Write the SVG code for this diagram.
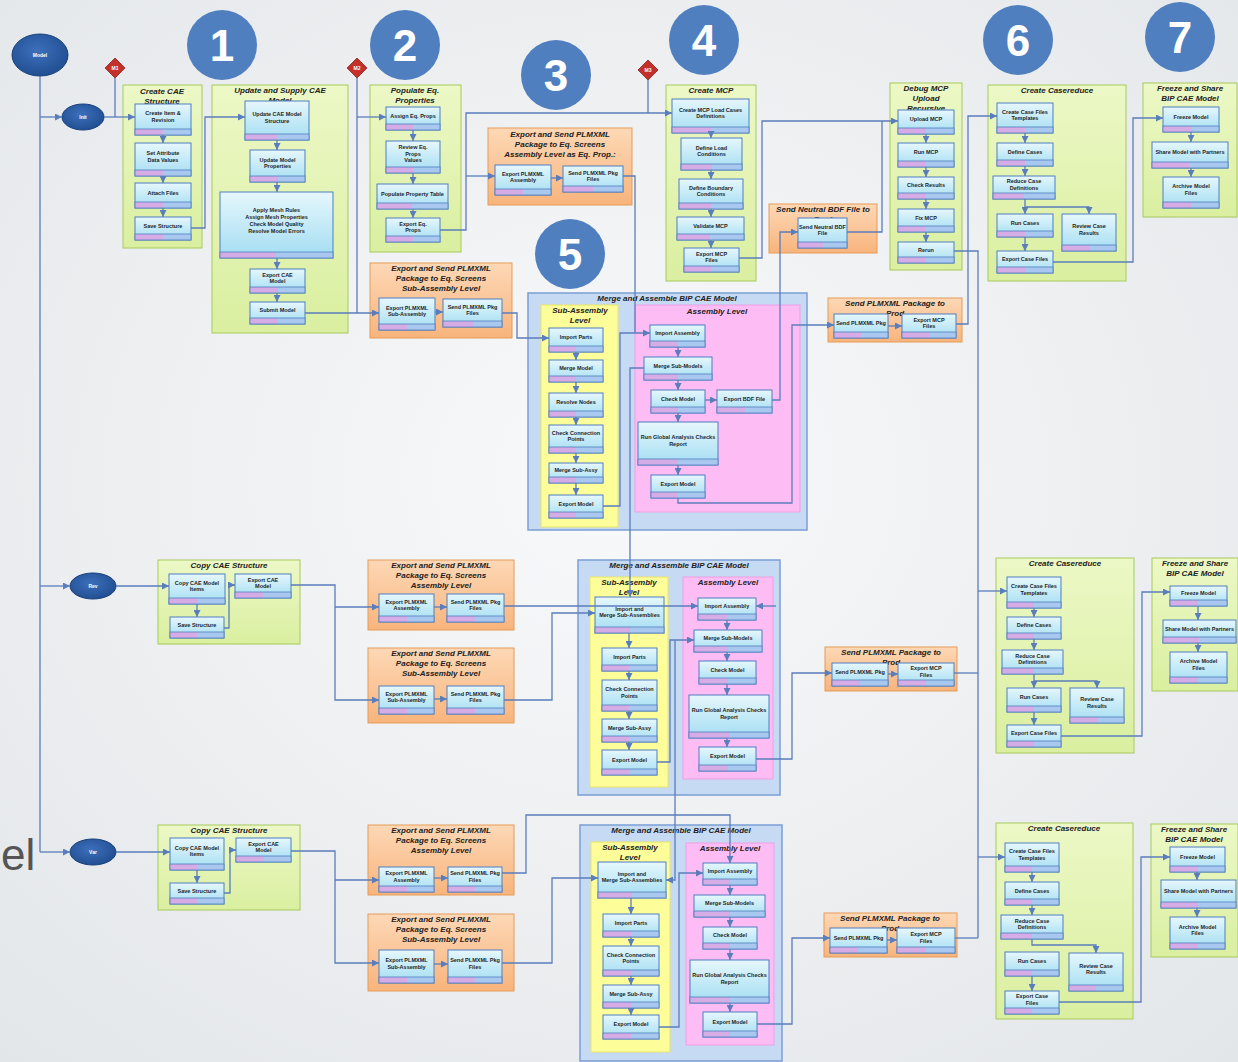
<svg xmlns="http://www.w3.org/2000/svg" width="1238" height="1062" viewBox="0 0 1238 1062">
<defs>
<radialGradient id="bgG" cx="50%" cy="45%" r="75%"><stop offset="0" stop-color="#f8f9fa"/><stop offset="1" stop-color="#e3e6e9"/></radialGradient>
<linearGradient id="gg" x1="0" y1="0" x2="0" y2="1"><stop offset="0" stop-color="#ecf8c6"/><stop offset="1" stop-color="#daefa0"/></linearGradient>
<linearGradient id="og" x1="0" y1="0" x2="0" y2="1"><stop offset="0" stop-color="#fdd8b6"/><stop offset="1" stop-color="#f8b47c"/></linearGradient>
<linearGradient id="bg" x1="0" y1="0" x2="0" y2="1"><stop offset="0" stop-color="#e6f7fc"/><stop offset="1" stop-color="#a3ddf2"/></linearGradient>
<linearGradient id="fg" x1="0" y1="0" x2="1" y2="0"><stop offset="0" stop-color="#d6ace6"/><stop offset="0.5" stop-color="#d6ace6"/><stop offset="0.5" stop-color="#a9c8ef"/><stop offset="1" stop-color="#a9c8ef"/></linearGradient>
<radialGradient id="eg" cx="45%" cy="40%" r="60%"><stop offset="0" stop-color="#3d6fbb"/><stop offset="1" stop-color="#214f92"/></radialGradient>
<marker id="a" viewBox="0 0 8 8" refX="8" refY="4" markerWidth="7" markerHeight="7" markerUnits="userSpaceOnUse" orient="auto"><path d="M0,0 L8,4 L0,8 z" fill="#5a7dbc"/></marker>
<style>
.grn{fill:url(#gg);stroke:#a8c95c;stroke-width:1}
.org{fill:url(#og);stroke:#e59b58;stroke-width:1}
.mrg{fill:#c6daf4;stroke:#7b9ed3;stroke-width:1.5}
.yel{fill:#fdfd9a;stroke:#ece467;stroke-width:1}
.pnk{fill:#fdbdf4;stroke:#ee9fe3;stroke-width:1}
.bx{fill:url(#bg);stroke:#4f7fbf;stroke-width:1}
.ft{fill:url(#fg);stroke:#4f7fbf;stroke-width:0.8}
.t{font-family:"Liberation Sans",Arial,sans-serif;font-size:8px;font-weight:bold;font-style:italic;text-anchor:middle;fill:#222}
.b{font-family:"Liberation Sans",Arial,sans-serif;font-size:5.5px;font-weight:bold;text-anchor:middle;fill:#1e1e1e}
.c{fill:none;stroke:#5a7dbc;stroke-width:1.3;marker-end:url(#a)}
.n{fill:none;stroke:#5a7dbc;stroke-width:1.3}
.num{fill:#4f7fbf}
.nt{font-family:"Liberation Sans",Arial,sans-serif;font-size:44px;font-weight:bold;fill:#fff;text-anchor:middle}
.ev{fill:url(#eg);stroke:#17407a;stroke-width:1}
.et{font-family:"Liberation Sans",Arial,sans-serif;font-size:5px;font-weight:bold;fill:#fff;text-anchor:middle}
.dm{fill:#c3312a;stroke:#8e1f1a;stroke-width:0.8}
</style>
</defs>
<rect width="1238" height="1062" fill="url(#bgG)"/>
<text x="1" y="870" font-family="Liberation Sans, Arial, sans-serif" font-size="44" fill="#555">el</text>

<!-- events and milestones -->
<g id="start"><ellipse class="ev" cx="40" cy="55" rx="28" ry="21"/><text class="et" x="40" y="57">Model</text></g>
<g id="ev-r1"><ellipse class="ev" cx="83" cy="117" rx="21" ry="13"/><text class="et" x="83" y="119">Init</text></g>
<g id="ev-r2"><ellipse class="ev" cx="93" cy="586" rx="23" ry="13"/><text class="et" x="93" y="588">Rev</text></g>
<g id="ev-r3"><ellipse class="ev" cx="93" cy="852" rx="23" ry="13"/><text class="et" x="93" y="854">Var</text></g>
<g id="ms1"><polygon class="dm" points="115,58 125,68 115,78 105,68"/><text class="et" x="115" y="70">M1</text></g>
<g id="ms2"><polygon class="dm" points="357,58 367,68 357,78 347,68"/><text class="et" x="357" y="70">M2</text></g>
<g id="ms3"><polygon class="dm" points="648,60 658,70 648,80 638,70"/><text class="et" x="648" y="72">M3</text></g>

<!-- number markers -->
<g id="num1"><circle class="num" cx="222" cy="45" r="35"/><text class="nt" x="222" y="61">1</text></g>
<g id="num2"><circle class="num" cx="405" cy="45" r="35"/><text class="nt" x="405" y="61">2</text></g>
<g id="num3"><circle class="num" cx="556" cy="75" r="35"/><text class="nt" x="556" y="91">3</text></g>
<g id="num4"><circle class="num" cx="704" cy="40" r="35"/><text class="nt" x="704" y="56">4</text></g>
<g id="num5"><circle class="num" cx="570" cy="254" r="35"/><text class="nt" x="570" y="270">5</text></g>
<g id="num6"><circle class="num" cx="1018" cy="40" r="35"/><text class="nt" x="1018" y="56">6</text></g>
<g id="num7"><circle class="num" cx="1180" cy="37" r="35"/><text class="nt" x="1180" y="53">7</text></g>

<!-- ROW 1 -->
<g id="r1-create-cae">
<rect class="grn" x="123" y="85" width="79" height="163"/>
<text class="t" x="162" y="94">Create CAE</text><text class="t" x="162" y="104">Structure</text>
<rect class="bx" x="135" y="104" width="56" height="31"/><rect class="ft" x="135" y="129" width="56" height="6"/><text class="b" x="163" y="115">Create Item &amp;</text><text class="b" x="163" y="121.5">Revision</text>
<rect class="bx" x="135" y="143" width="56" height="33"/><rect class="ft" x="135" y="170" width="56" height="6"/><text class="b" x="163" y="155">Set Attribute</text><text class="b" x="163" y="161.5">Data Values</text>
<rect class="bx" x="135" y="183" width="56" height="25"/><rect class="ft" x="135" y="202" width="56" height="6"/><text class="b" x="163" y="194.5">Attach Files</text>
<rect class="bx" x="135" y="217" width="56" height="23"/><rect class="ft" x="135" y="234" width="56" height="6"/><text class="b" x="163" y="227.5">Save Structure</text>
</g>
<g id="r1-update-cae">
<rect class="grn" x="212" y="85" width="136" height="248"/>
<text class="t" x="280" y="93">Update and Supply CAE</text><text class="t" x="280" y="103">Model</text>
<rect class="bx" x="245" y="101" width="64" height="39"/><rect class="ft" x="245" y="134" width="64" height="6"/><text class="b" x="277" y="116">Update CAE Model</text><text class="b" x="277" y="122.5">Structure</text>
<rect class="bx" x="250" y="150" width="55" height="32"/><rect class="ft" x="250" y="176" width="55" height="6"/><text class="b" x="277.5" y="161.5">Update Model</text><text class="b" x="277.5" y="168">Properties</text>
<rect class="bx" x="220" y="192" width="113" height="66"/><rect class="ft" x="220" y="252" width="113" height="6"/><text class="b" x="276.5" y="212">Apply Mesh Rules</text><text class="b" x="276.5" y="219">Assign Mesh Properties</text><text class="b" x="276.5" y="226">Check Model Quality</text><text class="b" x="276.5" y="233">Resolve Model Errors</text>
<rect class="bx" x="250" y="269" width="55" height="24"/><rect class="ft" x="250" y="287" width="55" height="6"/><text class="b" x="277.5" y="276.5">Export CAE</text><text class="b" x="277.5" y="283">Model</text>
<rect class="bx" x="250" y="302" width="55" height="22"/><rect class="ft" x="250" y="318" width="55" height="6"/><text class="b" x="277.5" y="312">Submit Model</text>
</g>
<g id="r1-populate">
<rect class="grn" x="370" y="85" width="91" height="167"/>
<text class="t" x="415" y="93">Populate Eq.</text><text class="t" x="415" y="103">Properties</text>
<rect class="bx" x="386" y="107" width="54" height="23"/><rect class="ft" x="386" y="124" width="54" height="6"/><text class="b" x="413" y="117.5">Assign Eq. Props</text>
<rect class="bx" x="386" y="141" width="54" height="32"/><rect class="ft" x="386" y="167" width="54" height="6"/><text class="b" x="413" y="149">Review Eq.</text><text class="b" x="413" y="155.5">Props</text><text class="b" x="413" y="162">Values</text>
<rect class="bx" x="377" y="184" width="71" height="25"/><rect class="ft" x="377" y="203" width="71" height="6"/><text class="b" x="412.5" y="195.5">Populate Property Table</text>
<rect class="bx" x="386" y="218" width="54" height="24"/><rect class="ft" x="386" y="236" width="54" height="6"/><text class="b" x="413" y="225.5">Export Eq.</text><text class="b" x="413" y="232">Props</text>
</g>
<g id="r1-export-asm">
<rect class="org" x="488" y="128" width="144" height="77"/>
<text class="t" x="560" y="137">Export and Send PLMXML</text><text class="t" x="560" y="147">Package to Eq. Screens</text><text class="t" x="560" y="157">Assembly Level as Eq. Prop.:</text>
<rect class="bx" x="495" y="165" width="56" height="30"/><rect class="ft" x="495" y="189" width="56" height="6"/><text class="b" x="523" y="175.5">Export PLMXML</text><text class="b" x="523" y="182">Assembly</text>
<rect class="bx" x="563" y="166" width="60" height="26"/><rect class="ft" x="563" y="186" width="60" height="6"/><text class="b" x="593" y="174.5">Send PLMXML Pkg</text><text class="b" x="593" y="181">Files</text>
</g>
<g id="r1-export-sub">
<rect class="org" x="370" y="263" width="142" height="75"/>
<text class="t" x="441" y="271">Export and Send PLMXML</text><text class="t" x="441" y="281">Package to Eq. Screens</text><text class="t" x="441" y="291">Sub-Assembly Level</text>
<rect class="bx" x="379" y="298" width="56" height="32"/><rect class="ft" x="379" y="324" width="56" height="6"/><text class="b" x="407" y="309.5">Export PLMXML</text><text class="b" x="407" y="316">Sub-Assembly</text>
<rect class="bx" x="443" y="299" width="59" height="28"/><rect class="ft" x="443" y="321" width="59" height="6"/><text class="b" x="472.5" y="308.5">Send PLMXML Pkg</text><text class="b" x="472.5" y="315">Files</text>
</g>
<g id="r1-merge">
<rect class="mrg" x="528" y="293" width="279" height="237"/>
<text class="t" x="667" y="301">Merge and Assemble BIP CAE Model</text>
<rect class="yel" x="541" y="305" width="77" height="222"/>
<text class="t" x="580" y="313">Sub-Assembly</text><text class="t" x="580" y="323">Level</text>
<rect class="bx" x="549" y="328" width="54" height="24"/><rect class="ft" x="549" y="346" width="54" height="6"/><text class="b" x="576" y="339">Import Parts</text>
<rect class="bx" x="549" y="360" width="54" height="22"/><rect class="ft" x="549" y="376" width="54" height="6"/><text class="b" x="576" y="370">Merge Model</text>
<rect class="bx" x="549" y="393" width="54" height="24"/><rect class="ft" x="549" y="411" width="54" height="6"/><text class="b" x="576" y="404">Resolve Nodes</text>
<rect class="bx" x="549" y="425" width="54" height="28"/><rect class="ft" x="549" y="447" width="54" height="6"/><text class="b" x="576" y="434.5">Check Connection</text><text class="b" x="576" y="441">Points</text>
<rect class="bx" x="549" y="463" width="54" height="20"/><rect class="ft" x="549" y="477" width="54" height="6"/><text class="b" x="576" y="472">Merge Sub-Assy</text>
<rect class="bx" x="549" y="495" width="54" height="23"/><rect class="ft" x="549" y="512" width="54" height="6"/><text class="b" x="576" y="505.5">Export Model</text>
<rect class="pnk" x="635" y="305" width="165" height="207"/>
<text class="t" x="717" y="314">Assembly Level</text>
<rect class="bx" x="650" y="325" width="55" height="22"/><rect class="ft" x="650" y="341" width="55" height="6"/><text class="b" x="677.5" y="335">Import Assembly</text>
<rect class="bx" x="644" y="357" width="68" height="23"/><rect class="ft" x="644" y="374" width="68" height="6"/><text class="b" x="678" y="367.5">Merge Sub-Models</text>
<rect class="bx" x="651" y="390" width="54" height="23"/><rect class="ft" x="651" y="407" width="54" height="6"/><text class="b" x="678" y="400.5">Check Model</text>
<rect class="bx" x="717" y="390" width="55" height="23"/><rect class="ft" x="717" y="407" width="55" height="6"/><text class="b" x="744.5" y="400.5">Export BDF File</text>
<rect class="bx" x="638" y="422" width="80" height="43"/><rect class="ft" x="638" y="459" width="80" height="6"/><text class="b" x="678" y="439">Run Global Analysis Checks</text><text class="b" x="678" y="445.5">Report</text>
<rect class="bx" x="651" y="475" width="54" height="23"/><rect class="ft" x="651" y="492" width="54" height="6"/><text class="b" x="678" y="485.5">Export Model</text>
</g>
<g id="r1-send-bdf">
<rect class="org" x="769" y="204" width="108" height="49"/>
<text class="t" x="823" y="212">Send Neutral BDF File to</text><text class="t" x="823" y="222">Prod</text>
<rect class="bx" x="798" y="218" width="49" height="30"/><rect class="ft" x="798" y="242" width="49" height="6"/><text class="b" x="822.5" y="228.5">Send Neutral BDF</text><text class="b" x="822.5" y="235">File</text>
</g>
<g id="r1-create-mcp">
<rect class="grn" x="666" y="85" width="90" height="196"/>
<text class="t" x="711" y="93">Create MCP</text>
<rect class="bx" x="672" y="99" width="77" height="34"/><rect class="ft" x="672" y="127" width="77" height="6"/><text class="b" x="710.5" y="111.5">Create MCP Load Cases</text><text class="b" x="710.5" y="118">Definitions</text>
<rect class="bx" x="681" y="138" width="61" height="32"/><rect class="ft" x="681" y="164" width="61" height="6"/><text class="b" x="711.5" y="149.5">Define Load</text><text class="b" x="711.5" y="156">Conditions</text>
<rect class="bx" x="679" y="179" width="64" height="30"/><rect class="ft" x="679" y="203" width="64" height="6"/><text class="b" x="711" y="189.5">Define Boundary</text><text class="b" x="711" y="196">Conditions</text>
<rect class="bx" x="677" y="217" width="67" height="23"/><rect class="ft" x="677" y="234" width="67" height="6"/><text class="b" x="710.5" y="227.5">Validate MCP</text>
<rect class="bx" x="684" y="248" width="55" height="24"/><rect class="ft" x="684" y="266" width="55" height="6"/><text class="b" x="711.5" y="255.5">Export MCP</text><text class="b" x="711.5" y="262">Files</text>
</g>
<g id="r1-debug-mcp">
<rect class="grn" x="890" y="83" width="72" height="187"/>
<text class="t" x="926" y="91">Debug MCP</text><text class="t" x="926" y="101">Upload</text><text class="t" x="926" y="111">Recursive</text>
<rect class="bx" x="898" y="110" width="56" height="24"/><rect class="ft" x="898" y="128" width="56" height="6"/><text class="b" x="926" y="121">Upload MCP</text>
<rect class="bx" x="898" y="143" width="56" height="24"/><rect class="ft" x="898" y="161" width="56" height="6"/><text class="b" x="926" y="154">Run MCP</text>
<rect class="bx" x="898" y="177" width="56" height="22"/><rect class="ft" x="898" y="193" width="56" height="6"/><text class="b" x="926" y="187">Check Results</text>
<rect class="bx" x="898" y="209" width="56" height="23"/><rect class="ft" x="898" y="226" width="56" height="6"/><text class="b" x="926" y="219.5">Fix MCP</text>
<rect class="bx" x="898" y="242" width="56" height="21"/><rect class="ft" x="898" y="257" width="56" height="6"/><text class="b" x="926" y="251.5">Rerun</text>
</g>
<g id="r1-send-plmxml">
<rect class="org" x="828" y="298" width="134" height="44"/>
<text class="t" x="895" y="306">Send PLMXML Package to</text><text class="t" x="895" y="316">Prod</text>
<rect class="bx" x="834" y="314" width="54" height="24"/><rect class="ft" x="834" y="332" width="54" height="6"/><text class="b" x="861" y="325">Send PLMXML Pkg</text>
<rect class="bx" x="902" y="314" width="54" height="24"/><rect class="ft" x="902" y="332" width="54" height="6"/><text class="b" x="929" y="321.5">Export MCP</text><text class="b" x="929" y="328">Files</text>
</g>
<g id="r1-casereduce">
<rect class="grn" x="988" y="85" width="138" height="196"/>
<text class="t" x="1057" y="93">Create Casereduce</text>
<rect class="bx" x="997" y="103" width="56" height="30"/><rect class="ft" x="997" y="127" width="56" height="6"/><text class="b" x="1025" y="113.5">Create Case Files</text><text class="b" x="1025" y="120">Templates</text>
<rect class="bx" x="997" y="143" width="56" height="23"/><rect class="ft" x="997" y="160" width="56" height="6"/><text class="b" x="1025" y="153.5">Define Cases</text>
<rect class="bx" x="993" y="176" width="62" height="23"/><rect class="ft" x="993" y="193" width="62" height="6"/><text class="b" x="1024" y="183">Reduce Case</text><text class="b" x="1024" y="189.5">Definitions</text>
<rect class="bx" x="997" y="214" width="56" height="23"/><rect class="ft" x="997" y="231" width="56" height="6"/><text class="b" x="1025" y="224.5">Run Cases</text>
<rect class="bx" x="1062" y="214" width="54" height="37"/><rect class="ft" x="1062" y="245" width="54" height="6"/><text class="b" x="1089" y="228">Review Case</text><text class="b" x="1089" y="234.5">Results</text>
<rect class="bx" x="997" y="251" width="56" height="22"/><rect class="ft" x="997" y="267" width="56" height="6"/><text class="b" x="1025" y="261">Export Case Files</text>
</g>
<g id="r1-freeze">
<rect class="grn" x="1143" y="83" width="94" height="134"/>
<text class="t" x="1190" y="91">Freeze and Share</text><text class="t" x="1190" y="101">BIP CAE Model</text>
<rect class="bx" x="1163" y="107" width="56" height="25"/><rect class="ft" x="1163" y="126" width="56" height="6"/><text class="b" x="1191" y="118.5">Freeze Model</text>
<rect class="bx" x="1152" y="142" width="76" height="26"/><rect class="ft" x="1152" y="162" width="76" height="6"/><text class="b" x="1190" y="154">Share Model with Partners</text>
<rect class="bx" x="1163" y="177" width="56" height="31"/><rect class="ft" x="1163" y="202" width="56" height="6"/><text class="b" x="1191" y="188">Archive Model</text><text class="b" x="1191" y="194.5">Files</text>
</g>

<!-- ROW 2 -->
<g id="r2-copy-cae">
<rect class="grn" x="158" y="560" width="142" height="84"/>
<text class="t" x="229" y="568">Copy CAE Structure</text>
<rect class="bx" x="169" y="574" width="56" height="30"/><rect class="ft" x="169" y="598" width="56" height="6"/><text class="b" x="197" y="584.5">Copy CAE Model</text><text class="b" x="197" y="591">Items</text>
<rect class="bx" x="170" y="617" width="54" height="21"/><rect class="ft" x="170" y="632" width="54" height="6"/><text class="b" x="197" y="626.5">Save Structure</text>
<rect class="bx" x="235" y="574" width="56" height="24"/><rect class="ft" x="235" y="592" width="56" height="6"/><text class="b" x="263" y="581.5">Export CAE</text><text class="b" x="263" y="588">Model</text>
</g>
<g id="r2-export-asm">
<rect class="org" x="368" y="560" width="146" height="70"/>
<text class="t" x="441" y="568">Export and Send PLMXML</text><text class="t" x="441" y="578">Package to Eq. Screens</text><text class="t" x="441" y="588">Assembly Level</text>
<rect class="bx" x="379" y="594" width="55" height="28"/><rect class="ft" x="379" y="616" width="55" height="6"/><text class="b" x="406.5" y="603.5">Export PLMXML</text><text class="b" x="406.5" y="610">Assembly</text>
<rect class="bx" x="447" y="594" width="57" height="28"/><rect class="ft" x="447" y="616" width="57" height="6"/><text class="b" x="475.5" y="603.5">Send PLMXML Pkg</text><text class="b" x="475.5" y="610">Files</text>
</g>
<g id="r2-export-sub">
<rect class="org" x="368" y="648" width="146" height="75"/>
<text class="t" x="441" y="656">Export and Send PLMXML</text><text class="t" x="441" y="666">Package to Eq. Screens</text><text class="t" x="441" y="676">Sub-Assembly Level</text>
<rect class="bx" x="379" y="686" width="55" height="28"/><rect class="ft" x="379" y="708" width="55" height="6"/><text class="b" x="406.5" y="695.5">Export PLMXML</text><text class="b" x="406.5" y="702">Sub-Assembly</text>
<rect class="bx" x="447" y="686" width="57" height="28"/><rect class="ft" x="447" y="708" width="57" height="6"/><text class="b" x="475.5" y="695.5">Send PLMXML Pkg</text><text class="b" x="475.5" y="702">Files</text>
</g>
<g id="r2-merge">
<rect class="mrg" x="578" y="560" width="202" height="235"/>
<text class="t" x="679" y="568">Merge and Assemble BIP CAE Model</text>
<rect class="yel" x="590" y="577" width="78" height="210"/>
<text class="t" x="629" y="585">Sub-Assembly</text><text class="t" x="629" y="595">Level</text>
<rect class="bx" x="595" y="597" width="69" height="36"/><rect class="ft" x="595" y="627" width="69" height="6"/><text class="b" x="629.5" y="610.5">Import and</text><text class="b" x="629.5" y="617">Merge Sub-Assemblies</text>
<rect class="bx" x="602" y="648" width="55" height="23"/><rect class="ft" x="602" y="665" width="55" height="6"/><text class="b" x="629.5" y="658.5">Import Parts</text>
<rect class="bx" x="602" y="680" width="55" height="31"/><rect class="ft" x="602" y="705" width="55" height="6"/><text class="b" x="629.5" y="691">Check Connection</text><text class="b" x="629.5" y="697.5">Points</text>
<rect class="bx" x="602" y="719" width="55" height="23"/><rect class="ft" x="602" y="736" width="55" height="6"/><text class="b" x="629.5" y="729.5">Merge Sub-Assy</text>
<rect class="bx" x="602" y="750" width="55" height="25"/><rect class="ft" x="602" y="769" width="55" height="6"/><text class="b" x="629.5" y="761.5">Export Model</text>
<rect class="pnk" x="683" y="577" width="90" height="202"/>
<text class="t" x="728" y="585">Assembly Level</text>
<rect class="bx" x="698" y="598" width="58" height="22"/><rect class="ft" x="698" y="614" width="58" height="6"/><text class="b" x="727" y="608">Import Assembly</text>
<rect class="bx" x="694" y="630" width="68" height="22"/><rect class="ft" x="694" y="646" width="68" height="6"/><text class="b" x="728" y="640">Merge Sub-Models</text>
<rect class="bx" x="699" y="661" width="57" height="23"/><rect class="ft" x="699" y="678" width="57" height="6"/><text class="b" x="727.5" y="671.5">Check Model</text>
<rect class="bx" x="689" y="695" width="80" height="43"/><rect class="ft" x="689" y="732" width="80" height="6"/><text class="b" x="729" y="712">Run Global Analysis Checks</text><text class="b" x="729" y="718.5">Report</text>
<rect class="bx" x="699" y="747" width="57" height="24"/><rect class="ft" x="699" y="765" width="57" height="6"/><text class="b" x="727.5" y="758">Export Model</text>
</g>
<g id="r2-send-plmxml">
<rect class="org" x="825" y="647" width="132" height="44"/>
<text class="t" x="891" y="655">Send PLMXML Package to</text><text class="t" x="891" y="665">Prod</text>
<rect class="bx" x="832" y="663" width="56" height="23"/><rect class="ft" x="832" y="680" width="56" height="6"/><text class="b" x="860" y="673.5">Send PLMXML Pkg</text>
<rect class="bx" x="898" y="663" width="56" height="23"/><rect class="ft" x="898" y="680" width="56" height="6"/><text class="b" x="926" y="670">Export MCP</text><text class="b" x="926" y="676.5">Files</text>
</g>
<g id="r2-casereduce">
<rect class="grn" x="996" y="558" width="138" height="195"/>
<text class="t" x="1065" y="566">Create Casereduce</text>
<rect class="bx" x="1007" y="577" width="54" height="31"/><rect class="ft" x="1007" y="602" width="54" height="6"/><text class="b" x="1034" y="588">Create Case Files</text><text class="b" x="1034" y="594.5">Templates</text>
<rect class="bx" x="1007" y="617" width="54" height="22"/><rect class="ft" x="1007" y="633" width="54" height="6"/><text class="b" x="1034" y="627">Define Cases</text>
<rect class="bx" x="1002" y="650" width="61" height="24"/><rect class="ft" x="1002" y="668" width="61" height="6"/><text class="b" x="1032.5" y="657.5">Reduce Case</text><text class="b" x="1032.5" y="664">Definitions</text>
<rect class="bx" x="1007" y="688" width="54" height="24"/><rect class="ft" x="1007" y="706" width="54" height="6"/><text class="b" x="1034" y="699">Run Cases</text>
<rect class="bx" x="1070" y="688" width="54" height="35"/><rect class="ft" x="1070" y="717" width="54" height="6"/><text class="b" x="1097" y="701">Review Case</text><text class="b" x="1097" y="707.5">Results</text>
<rect class="bx" x="1007" y="725" width="54" height="22"/><rect class="ft" x="1007" y="741" width="54" height="6"/><text class="b" x="1034" y="735">Export Case Files</text>
</g>
<g id="r2-freeze">
<rect class="grn" x="1152" y="558" width="86" height="133"/>
<text class="t" x="1195" y="566">Freeze and Share</text><text class="t" x="1195" y="576">BIP CAE Model</text>
<rect class="bx" x="1170" y="586" width="57" height="20"/><rect class="ft" x="1170" y="600" width="57" height="6"/><text class="b" x="1198.5" y="595">Freeze Model</text>
<rect class="bx" x="1163" y="620" width="73" height="23"/><rect class="ft" x="1163" y="637" width="73" height="6"/><text class="b" x="1199.5" y="630.5">Share Model with Partners</text>
<rect class="bx" x="1170" y="652" width="57" height="31"/><rect class="ft" x="1170" y="677" width="57" height="6"/><text class="b" x="1198.5" y="663">Archive Model</text><text class="b" x="1198.5" y="669.5">Files</text>
</g>

<!-- ROW 3 -->
<g id="r3-copy-cae">
<rect class="grn" x="158" y="825" width="142" height="85"/>
<text class="t" x="229" y="833">Copy CAE Structure</text>
<rect class="bx" x="170" y="838" width="54" height="32"/><rect class="ft" x="170" y="864" width="54" height="6"/><text class="b" x="197" y="849.5">Copy CAE Model</text><text class="b" x="197" y="856">Items</text>
<rect class="bx" x="170" y="883" width="54" height="21"/><rect class="ft" x="170" y="898" width="54" height="6"/><text class="b" x="197" y="892.5">Save Structure</text>
<rect class="bx" x="236" y="838" width="55" height="24"/><rect class="ft" x="236" y="856" width="55" height="6"/><text class="b" x="263.5" y="845.5">Export CAE</text><text class="b" x="263.5" y="852">Model</text>
</g>
<g id="r3-export-asm">
<rect class="org" x="368" y="825" width="146" height="70"/>
<text class="t" x="441" y="833">Export and Send PLMXML</text><text class="t" x="441" y="843">Package to Eq. Screens</text><text class="t" x="441" y="853">Assembly Level</text>
<rect class="bx" x="379" y="867" width="55" height="25"/><rect class="ft" x="379" y="886" width="55" height="6"/><text class="b" x="406.5" y="875">Export PLMXML</text><text class="b" x="406.5" y="881.5">Assembly</text>
<rect class="bx" x="448" y="867" width="54" height="25"/><rect class="ft" x="448" y="886" width="54" height="6"/><text class="b" x="475" y="875">Send PLMXML Pkg</text><text class="b" x="475" y="881.5">Files</text>
</g>
<g id="r3-export-sub">
<rect class="org" x="368" y="914" width="146" height="77"/>
<text class="t" x="441" y="922">Export and Send PLMXML</text><text class="t" x="441" y="932">Package to Eq. Screens</text><text class="t" x="441" y="942">Sub-Assembly Level</text>
<rect class="bx" x="379" y="950" width="55" height="33"/><rect class="ft" x="379" y="977" width="55" height="6"/><text class="b" x="406.5" y="962">Export PLMXML</text><text class="b" x="406.5" y="968.5">Sub-Assembly</text>
<rect class="bx" x="448" y="950" width="54" height="33"/><rect class="ft" x="448" y="977" width="54" height="6"/><text class="b" x="475" y="962">Send PLMXML Pkg</text><text class="b" x="475" y="968.5">Files</text>
</g>
<g id="r3-merge">
<rect class="mrg" x="580" y="825" width="202" height="236"/>
<text class="t" x="681" y="833">Merge and Assemble BIP CAE Model</text>
<rect class="yel" x="591" y="842" width="79" height="210"/>
<text class="t" x="630" y="850">Sub-Assembly</text><text class="t" x="630" y="860">Level</text>
<rect class="bx" x="598" y="862" width="68" height="36"/><rect class="ft" x="598" y="892" width="68" height="6"/><text class="b" x="632" y="875.5">Import and</text><text class="b" x="632" y="882">Merge Sub-Assemblies</text>
<rect class="bx" x="603" y="914" width="56" height="23"/><rect class="ft" x="603" y="931" width="56" height="6"/><text class="b" x="631" y="924.5">Import Parts</text>
<rect class="bx" x="603" y="946" width="56" height="30"/><rect class="ft" x="603" y="970" width="56" height="6"/><text class="b" x="631" y="956.5">Check Connection</text><text class="b" x="631" y="963">Points</text>
<rect class="bx" x="603" y="985" width="56" height="23"/><rect class="ft" x="603" y="1002" width="56" height="6"/><text class="b" x="631" y="995.5">Merge Sub-Assy</text>
<rect class="bx" x="603" y="1015" width="56" height="24"/><rect class="ft" x="603" y="1033" width="56" height="6"/><text class="b" x="631" y="1026">Export Model</text>
<rect class="pnk" x="686" y="843" width="88" height="202"/>
<text class="t" x="730" y="851">Assembly Level</text>
<rect class="bx" x="703" y="863" width="54" height="22"/><rect class="ft" x="703" y="879" width="54" height="6"/><text class="b" x="730" y="873">Import Assembly</text>
<rect class="bx" x="694" y="895" width="71" height="22"/><rect class="ft" x="694" y="911" width="71" height="6"/><text class="b" x="729.5" y="905">Merge Sub-Models</text>
<rect class="bx" x="703" y="927" width="54" height="22"/><rect class="ft" x="703" y="943" width="54" height="6"/><text class="b" x="730" y="937">Check Model</text>
<rect class="bx" x="690" y="960" width="79" height="43"/><rect class="ft" x="690" y="997" width="79" height="6"/><text class="b" x="729.5" y="977">Run Global Analysis Checks</text><text class="b" x="729.5" y="983.5">Report</text>
<rect class="bx" x="703" y="1012" width="54" height="25"/><rect class="ft" x="703" y="1031" width="54" height="6"/><text class="b" x="730" y="1023.5">Export Model</text>
</g>
<g id="r3-send-plmxml">
<rect class="org" x="824" y="913" width="133" height="44"/>
<text class="t" x="890" y="921">Send PLMXML Package to</text><text class="t" x="890" y="931">Prod</text>
<rect class="bx" x="830" y="928" width="57" height="25"/><rect class="ft" x="830" y="947" width="57" height="6"/><text class="b" x="858.5" y="939.5">Send PLMXML Pkg</text>
<rect class="bx" x="897" y="928" width="58" height="25"/><rect class="ft" x="897" y="947" width="58" height="6"/><text class="b" x="926" y="936">Export MCP</text><text class="b" x="926" y="942.5">Files</text>
</g>
<g id="r3-casereduce">
<rect class="grn" x="996" y="823" width="137" height="196"/>
<text class="t" x="1064" y="831">Create Casereduce</text>
<rect class="bx" x="1005" y="843" width="54" height="29"/><rect class="ft" x="1005" y="866" width="54" height="6"/><text class="b" x="1032" y="853">Create Case Files</text><text class="b" x="1032" y="859.5">Templates</text>
<rect class="bx" x="1005" y="882" width="54" height="23"/><rect class="ft" x="1005" y="899" width="54" height="6"/><text class="b" x="1032" y="892.5">Define Cases</text>
<rect class="bx" x="1001" y="915" width="62" height="24"/><rect class="ft" x="1001" y="933" width="62" height="6"/><text class="b" x="1032" y="922.5">Reduce Case</text><text class="b" x="1032" y="929">Definitions</text>
<rect class="bx" x="1005" y="952" width="54" height="24"/><rect class="ft" x="1005" y="970" width="54" height="6"/><text class="b" x="1032" y="963">Run Cases</text>
<rect class="bx" x="1069" y="953" width="54" height="38"/><rect class="ft" x="1069" y="985" width="54" height="6"/><text class="b" x="1096" y="967.5">Review Case</text><text class="b" x="1096" y="974">Results</text>
<rect class="bx" x="1005" y="991" width="54" height="23"/><rect class="ft" x="1005" y="1008" width="54" height="6"/><text class="b" x="1032" y="998">Export Case</text><text class="b" x="1032" y="1004.5">Files</text>
</g>
<g id="r3-freeze">
<rect class="grn" x="1151" y="824" width="87" height="133"/>
<text class="t" x="1194" y="832">Freeze and Share</text><text class="t" x="1194" y="842">BIP CAE Model</text>
<rect class="bx" x="1170" y="847" width="55" height="25"/><rect class="ft" x="1170" y="866" width="55" height="6"/><text class="b" x="1197.5" y="858.5">Freeze Model</text>
<rect class="bx" x="1161" y="880" width="75" height="28"/><rect class="ft" x="1161" y="902" width="75" height="6"/><text class="b" x="1198.5" y="893">Share Model with Partners</text>
<rect class="bx" x="1170" y="917" width="55" height="32"/><rect class="ft" x="1170" y="943" width="55" height="6"/><text class="b" x="1197.5" y="928.5">Archive Model</text><text class="b" x="1197.5" y="935">Files</text>
</g>

<!-- CONNECTORS -->
<g id="connectors">
<path class="n" d="M40,76 V852"/>
<path class="c" d="M40,117 H62"/>
<path class="c" d="M40,586 H70"/>
<path class="c" d="M40,852 H70"/>
<path class="c" d="M104,117 H135"/>
<path class="n" d="M115,78 V117"/>
<path class="c" d="M163,135 V143"/><path class="c" d="M163,176 V183"/><path class="c" d="M163,208 V217"/>
<path class="c" d="M191,228 H205 V117 H245"/>
<path class="c" d="M277,140 V150"/><path class="c" d="M277,182 V192"/><path class="c" d="M277,258 V269"/><path class="c" d="M277,293 V302"/>
<path class="c" d="M305,313 H379"/>
<path class="n" d="M357,78 V313"/>
<path class="c" d="M357,117 H386"/>
<path class="c" d="M413,130 V141"/><path class="c" d="M413,173 V184"/><path class="c" d="M413,209 V218"/>
<path class="c" d="M440,230 H466 V113 H672"/>
<path class="c" d="M466,176 H495"/>
<path class="n" d="M648,80 V113"/>
<path class="c" d="M551,178 H563"/>
<path class="n" d="M623,176 H635 V333"/>
<path class="c" d="M435,312 H443"/>
<path class="c" d="M502,313 H517 V338 H549"/>
<path class="c" d="M576,352 V360"/><path class="c" d="M576,382 V393"/><path class="c" d="M576,417 V425"/><path class="c" d="M576,453 V463"/><path class="c" d="M576,483 V495"/>
<path class="c" d="M603,506 H620 V333 H650"/>
<path class="c" d="M678,347 V357"/><path class="c" d="M678,380 V390"/><path class="c" d="M705,400 H717"/><path class="c" d="M678,413 V422"/><path class="c" d="M678,465 V475"/>
<path class="c" d="M772,400 H780 V232 H798"/>
<path class="c" d="M678,498 V503 H792 V325 H834"/>
<path class="c" d="M711,133 V138"/><path class="c" d="M711,170 V179"/><path class="c" d="M711,209 V217"/><path class="c" d="M711,240 V248"/>
<path class="c" d="M739,258 H762 V121 H898"/>
<path class="n" d="M847,232 H882 V121"/>
<path class="c" d="M926,134 V143"/><path class="c" d="M926,167 V177"/><path class="c" d="M926,199 V209"/><path class="c" d="M926,232 V242"/>
<path class="n" d="M954,251 H978 V938"/>
<path class="c" d="M888,326 H902"/>
<path class="c" d="M956,324 H968 V116 H997"/>
<path class="c" d="M1025,133 V143"/><path class="c" d="M1025,166 V176"/><path class="c" d="M1025,199 V207 H1089 V214"/><path class="c" d="M1025,207 V214"/><path class="c" d="M1025,237 V251"/>
<path class="c" d="M1053,262 H1133 V118 H1163"/>
<path class="c" d="M1191,132 V142"/><path class="c" d="M1191,168 V177"/>
<path class="c" d="M644,368 H630 V597"/>
<!-- row 2 -->
<path class="c" d="M116,586 H169"/>
<path class="c" d="M197,604 V617"/>
<path class="c" d="M224,628 H229 V585 H235"/>
<path class="c" d="M291,585 H335 V700 H379"/>
<path class="c" d="M335,607 H379"/>
<path class="c" d="M434,607 H447"/><path class="c" d="M434,699 H447"/>
<path class="c" d="M504,606 H698"/>
<path class="c" d="M504,700 H552 V613 H595"/>
<path class="c" d="M629,633 V648"/><path class="c" d="M629,671 V680"/><path class="c" d="M629,711 V719"/><path class="c" d="M629,742 V750"/>
<path class="c" d="M657,762 H670 V640 H694"/>
<path class="c" d="M675,640 V880 H666"/>
<path class="c" d="M776,606 H756"/>
<path class="c" d="M727,620 V630"/><path class="c" d="M727,652 V661"/><path class="c" d="M727,684 V695"/><path class="c" d="M727,738 V747"/>
<path class="c" d="M756,759 H792 V673 H832"/>
<path class="c" d="M888,674 H898"/>
<path class="n" d="M954,673 H978"/>
<path class="c" d="M978,591 H1007"/>
<path class="c" d="M1034,608 V617"/><path class="c" d="M1034,639 V650"/><path class="c" d="M1034,674 V681 H1097 V688"/><path class="c" d="M1034,681 V688"/><path class="c" d="M1034,712 V725"/>
<path class="c" d="M1061,736 H1142 V592 H1170"/>
<path class="c" d="M1198,606 V620"/><path class="c" d="M1198,643 V652"/>
<!-- row 3 -->
<path class="c" d="M116,852 H170"/>
<path class="c" d="M197,870 V883"/>
<path class="c" d="M224,893 H230 V850 H236"/>
<path class="c" d="M291,851 H335 V963 H379"/>
<path class="c" d="M335,880 H379"/>
<path class="c" d="M434,878 H448"/><path class="c" d="M434,964 H448"/>
<path class="c" d="M502,873 H526 V815 H730 V863"/>
<path class="c" d="M502,963 H552 V878 H598"/>
<path class="c" d="M631,898 V914"/><path class="c" d="M631,937 V946"/><path class="c" d="M631,976 V985"/><path class="c" d="M631,1008 V1015"/>
<path class="c" d="M659,1027 H679 V873 H703"/>
<path class="c" d="M730,885 V895"/><path class="c" d="M730,917 V927"/><path class="c" d="M730,949 V960"/><path class="c" d="M730,1003 V1012"/>
<path class="c" d="M757,1024 H792 V938 H830"/>
<path class="c" d="M887,940 H897"/>
<path class="n" d="M955,938 H978"/>
<path class="c" d="M978,857 H1005"/>
<path class="c" d="M1032,872 V882"/><path class="c" d="M1032,905 V915"/><path class="c" d="M1032,939 V945 H1096 V953"/><path class="c" d="M1032,976 V991"/>
<path class="c" d="M1059,1002 H1141 V857 H1170"/>
<path class="c" d="M1197,872 V880"/><path class="c" d="M1197,908 V917"/>
</g>
</svg>
